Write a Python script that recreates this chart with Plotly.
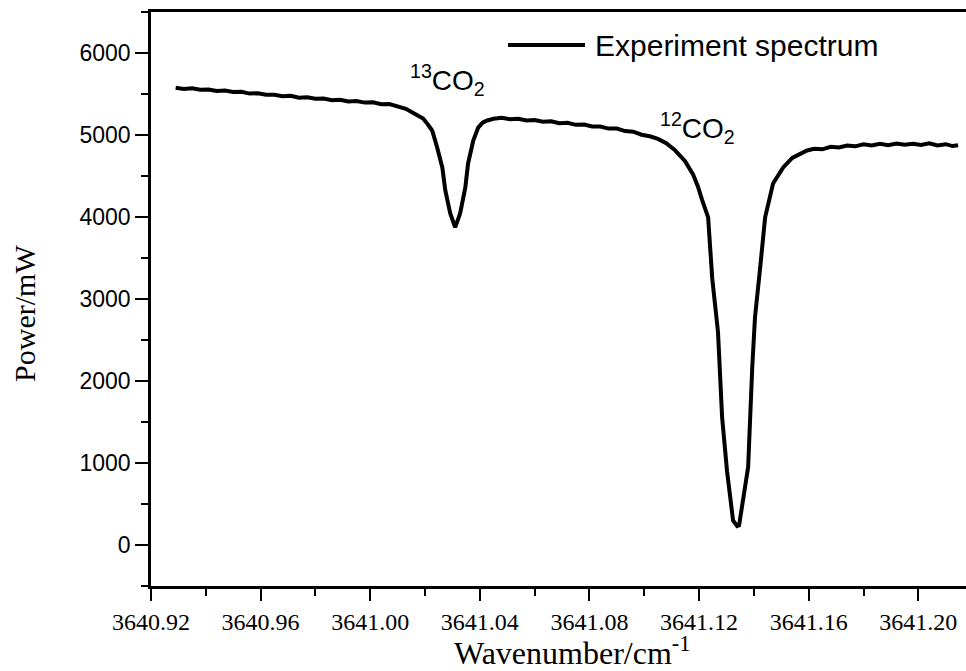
import plotly.graph_objects as go

# ---- data ----
wavenumber = [
    3640.929, 3640.932, 3640.935, 3640.938, 3640.941, 3640.944, 3640.947, 3640.950,
    3640.953, 3640.956, 3640.959, 3640.962, 3640.965, 3640.968, 3640.971, 3640.974,
    3640.977, 3640.980, 3640.983, 3640.986, 3640.989, 3640.992, 3640.995, 3640.998,
    3641.001, 3641.004, 3641.007, 3641.010, 3641.013,
    3641.0146, 3641.0165, 3641.0193, 3641.0210, 3641.0226, 3641.0244, 3641.0263,
    3641.0274, 3641.0292, 3641.0310, 3641.0320, 3641.0328, 3641.0347, 3641.0357,
    3641.0376, 3641.0394, 3641.0410, 3641.0427,
    3641.045, 3641.048, 3641.051, 3641.054, 3641.057, 3641.060, 3641.063, 3641.066,
    3641.069, 3641.072, 3641.075, 3641.078, 3641.081, 3641.084, 3641.087, 3641.090,
    3641.093, 3641.096, 3641.099, 3641.102, 3641.105, 3641.108, 3641.111,
    3641.1149, 3641.1178, 3641.1196, 3641.1211, 3641.1233, 3641.1248, 3641.1269,
    3641.1284, 3641.1302, 3641.1324, 3641.1339, 3641.1346, 3641.1361, 3641.1379,
    3641.1394, 3641.1404, 3641.1423, 3641.1441, 3641.1470, 3641.1507, 3641.1540,
    3641.1594, 3641.162, 3641.165, 3641.168, 3641.171, 3641.174, 3641.177, 3641.180,
    3641.183, 3641.186, 3641.189, 3641.192, 3641.195, 3641.198, 3641.201, 3641.204,
    3641.207, 3641.210, 3641.2125, 3641.2145,
]
power = [
    5575, 5562, 5570, 5553, 5556, 5538, 5543, 5525,
    5528, 5505, 5510, 5490, 5492, 5474, 5478, 5455,
    5460, 5442, 5446, 5425, 5430, 5410, 5415, 5395,
    5398, 5375, 5378, 5352, 5320,
    5290, 5250, 5200, 5130, 5055, 4850, 4604,
    4324, 4044, 3873, 3960, 4044, 4360, 4653,
    4933, 5091, 5150, 5177,
    5198, 5210, 5192, 5198, 5178, 5183, 5163, 5168,
    5143, 5148, 5124, 5128, 5103, 5104, 5078, 5078,
    5048, 5040, 5003, 4985, 4952, 4900, 4820,
    4680, 4520, 4370, 4210, 3995, 3250, 2600,
    1560, 900, 300, 230, 240, 548, 950,
    2168, 2777, 3386, 3995, 4409, 4604, 4720,
    4811, 4832, 4825, 4857, 4848, 4872, 4862, 4886,
    4873, 4892, 4876, 4897, 4880, 4893, 4878, 4898,
    4873, 4888, 4865, 4875,
]
series_name = "Experiment spectrum"
x_title = "Wavenumber/cm<sup>-1</sup>"
y_title = "Power/mW"
peak_labels = ["<sup>13</sup>CO<sub>2</sub>", "<sup>12</sup>CO<sub>2</sub>"]
peak_label_x = [3641.0281, 3641.1193]
peak_label_y = [5676, 5091]

SANS = "Liberation Sans, Arial, sans-serif"
SERIF = "Liberation Serif, Times New Roman, serif"

fig = go.Figure()
fig.add_trace(go.Scatter(
    x=wavenumber, y=power, mode="lines", name=series_name,
    line=dict(color="black", width=4), showlegend=False,
))

# manual legend (long line sample + text)
fig.add_shape(type="line", xref="paper", yref="paper",
              x0=0.438, x1=0.5325, y0=0.9425, y1=0.9425,
              line=dict(color="black", width=4))
fig.add_annotation(xref="paper", yref="paper", x=0.5423, y=0.9425,
                   xanchor="left", yanchor="middle", showarrow=False,
                   text=series_name, font=dict(family=SANS, size=30, color="black"))

for t, xv, yv in zip(peak_labels, peak_label_x, peak_label_y):
    fig.add_annotation(x=xv, y=yv, text=t, showarrow=False,
                       xanchor="center", yanchor="middle",
                       font=dict(family=SANS, size=28, color="black"))

# axis titles as annotations placed like the reference
fig.add_annotation(xref="paper", yref="paper", x=0.517, y=-0.113,
                   xanchor="center", yanchor="middle", showarrow=False,
                   text=x_title, font=dict(family=SERIF, size=32, color="black"))
fig.add_annotation(xref="paper", yref="paper", x=-0.1546, y=0.474,
                   xanchor="center", yanchor="middle", showarrow=False, textangle=-90,
                   text=y_title, font=dict(family=SERIF, size=30, color="black"))

fig.update_layout(
    width=966, height=671,
    margin=dict(l=151, r=0, t=12, b=85),
    plot_bgcolor="white", paper_bgcolor="white",
)
fig.update_xaxes(
    range=[3640.92, 3641.2174], automargin=False,
    tickmode="linear", tick0=3640.92, dtick=0.04, tickformat=".2f",
    ticks="outside", ticklen=12, tickwidth=2, tickcolor="black",
    minor=dict(tickmode="linear", tick0=3640.92, dtick=0.02, ticks="outside",
               ticklen=7, tickwidth=2, tickcolor="black"),
    showline=True, linewidth=2.5, linecolor="black", mirror=True,
    showgrid=False, zeroline=False,
    tickfont=dict(family=SERIF, size=24, color="black"),
)
fig.update_yaxes(
    range=[-500, 6500], automargin=False,
    tickmode="linear", tick0=0, dtick=1000,
    ticks="outside", ticklen=13, tickwidth=2, tickcolor="black",
    minor=dict(tickmode="linear", tick0=0, dtick=500, ticks="outside",
               ticklen=7, tickwidth=2, tickcolor="black"),
    showline=True, linewidth=2.5, linecolor="black", mirror=False,
    showgrid=False, zeroline=False,
    tickfont=dict(family=SANS, size=23, color="black"),
)

fig.write_html("out.html")
